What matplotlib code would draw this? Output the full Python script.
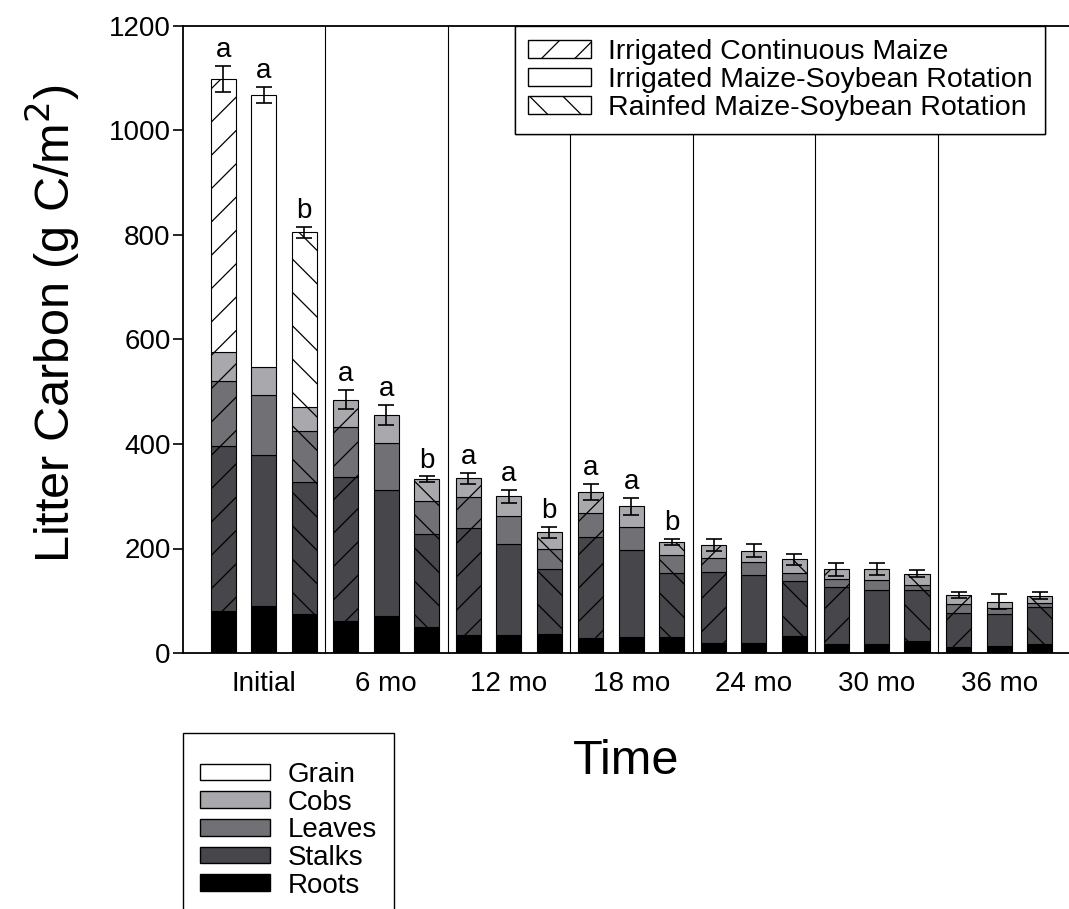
import numpy as np
import matplotlib
matplotlib.use("Agg")
import matplotlib.pyplot as plt
from matplotlib.patches import Patch

plt.rcParams['font.family'] = ['Liberation Sans', 'DejaVu Sans']
plt.rcParams['hatch.linewidth'] = 0.9

# time points on the x axis
periods = ["Initial", "6 mo", "12 mo", "18 mo", "24 mo", "30 mo", "36 mo"]
systems = ["Irrigated Continuous Maize", "Irrigated Maize-Soybean Rotation",
           "Rainfed Maize-Soybean Rotation"]
parts = ["Grain", "Cobs", "Leaves", "Stalks", "Roots"]

# litter carbon (g C/m2), rows = periods, cols = systems
roots = np.array([[80, 90, 75], [61, 70, 49], [35, 35, 36], [28, 30, 30],
                  [20, 20, 33], [17, 17, 23], [12, 13, 17]])
stalks = np.array([[316, 288, 253], [276, 242, 179], [204, 174, 124], [194, 168, 123],
                   [135, 130, 104], [110, 104, 97], [64, 61, 71]])
leaves = np.array([[125, 116, 96], [96, 90, 62], [60, 54, 39], [46, 43, 35],
                   [27, 24, 16], [15, 19, 10], [17, 12, 7]])
cobs = np.array([[56, 54, 46], [52, 54, 43], [35, 37, 32], [40, 40, 25],
                 [25, 22, 26], [18, 21, 22], [18, 12, 15]])
grain = np.array([[522, 520, 335], [0, 0, 0], [0, 0, 0], [0, 0, 0],
                  [0, 0, 0], [0, 0, 0], [0, 0, 0]])
errors = np.array([[25, 16, 10], [18, 19, 5], [11, 12, 10], [15, 16, 6],
                   [12, 12, 10], [12, 12, 7], [6, 14, 7]])
letters = [["a", "a", "b"], ["a", "a", "b"], ["a", "a", "b"], ["a", "a", "b"],
           ["", "", ""], ["", "", ""], ["", "", ""]]

colors = {"Grain": "white", "Cobs": "#a9a9ad", "Leaves": "#707075",
          "Stalks": "#46464b", "Roots": "black"}
hatches = ["/", "", "\\"]
offsets = [-0.33, 0.0, 0.33]
width = 0.204

fig = plt.figure(figsize=(10.69, 9.09), dpi=100)
ax = fig.add_axes([183/1069, 1 - 653/909, 1 - 183/1069, (653 - 26)/909])

x = np.arange(len(periods))
stack = [("Roots", roots), ("Stalks", stalks), ("Leaves", leaves),
         ("Cobs", cobs), ("Grain", grain)]

for j in range(3):
    xs = x + offsets[j]
    bottom = np.zeros(len(periods))
    for name, vals in stack:
        h = vals[:, j]
        keep = h > 0
        ax.bar(xs[keep], h[keep], width, bottom=bottom[keep], color=colors[name],
               edgecolor="black", linewidth=0.8, hatch=hatches[j], zorder=2)
        bottom = bottom + h
    ax.errorbar(xs, bottom, yerr=errors[:, j], fmt="none", ecolor="black",
                elinewidth=1.2, capsize=6, capthick=1.2, zorder=3)
    for i in range(len(periods)):
        if letters[i][j]:
            ax.annotate(letters[i][j], (xs[i], bottom[i] + errors[i, j]),
                        xytext=(0, 2), textcoords="offset points",
                        ha="center", va="bottom", fontsize=20)

for s in np.arange(0.5, len(periods) - 1, 1.0):
    ax.axvline(s, color="black", linewidth=0.8, zorder=1)

ax.set_xlim(-0.658, 6.57)
ax.set_ylim(0, 1200)
ax.set_yticks(np.arange(0, 1201, 200))
ax.set_xticks(x)
ax.set_xticklabels(periods)
ax.tick_params(axis="y", direction="out", length=7, width=1.2, pad=2, labelsize=20)
ax.tick_params(axis="x", length=0, pad=13, labelsize=20)
for side in ["left", "bottom", "top"]:
    ax.spines[side].set_linewidth(1.3)
ax.spines["right"].set_visible(False)

ax.set_ylabel("Litter Carbon (g C/m$^2$)", fontsize=35)
ax.yaxis.set_label_coords(-0.114, 0.525)
ax.set_xlabel("Time", fontsize=35, labelpad=30)

sys_handles = [Patch(facecolor="white", edgecolor="black", hatch=hatches[j], label=systems[j])
               for j in range(3)]
leg1 = ax.legend(handles=sys_handles, loc="upper right", bbox_to_anchor=(0.973, 1.0),
                 borderaxespad=0, fontsize=20.5, frameon=True, fancybox=False,
                 edgecolor="black", framealpha=1, handlelength=2.2, handleheight=0.6,
                 labelspacing=0.08, handletextpad=0.6, borderpad=0.45)
leg1.get_frame().set_linewidth(1.0)
ax.add_artist(leg1)

part_handles = [Patch(facecolor=colors[p], edgecolor="black", label=p) for p in parts]
leg2 = fig.legend(handles=part_handles, loc="upper left",
                  bbox_to_anchor=(183/1069, 1 - 733/909), borderaxespad=0,
                  fontsize=20, frameon=True, fancybox=False, edgecolor="black",
                  framealpha=1, handlelength=2.5, handleheight=0.55,
                  labelspacing=0.06, handletextpad=0.65, borderpad=0.62,
                  title=" ", title_fontsize=8)
leg2.get_frame().set_linewidth(1.0)

fig.savefig("out.png", dpi=100)
